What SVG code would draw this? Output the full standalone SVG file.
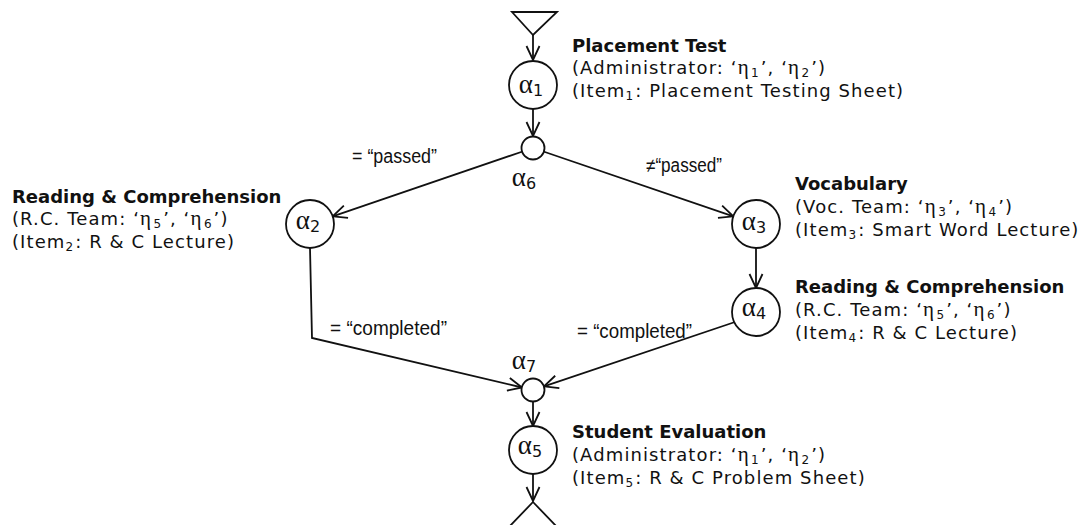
<svg xmlns="http://www.w3.org/2000/svg" width="1080" height="525" viewBox="0 0 1080 525">
<style>
.bg{fill:#fff}
.node{fill:#fff;stroke:#111;stroke-width:1.8}
.term{fill:#fff;stroke:#111;stroke-width:1.8}
.edge{fill:none;stroke:#111;stroke-width:1.8}
.t{font-family:"DejaVu Sans","Verdana",sans-serif;font-size:18px;fill:#111;letter-spacing:1.1px}
.b{font-weight:bold;letter-spacing:0}
.g{font-family:"Liberation Serif","Times New Roman",serif;font-size:21px;letter-spacing:2.5px}
.s{font-size:12px;letter-spacing:2px}
.a{font-family:"Liberation Serif","Times New Roman",serif;font-size:27px;fill:#111;text-anchor:middle}
.as{font-family:"DejaVu Sans",sans-serif;font-size:16px}
.lab{font-family:"Liberation Sans Narrow","Liberation Sans",sans-serif;font-size:19.5px;fill:#111}
</style>
<defs>
<marker id="arr" markerUnits="userSpaceOnUse" viewBox="0 0 16 16" refX="15" refY="8" markerWidth="16" markerHeight="16" orient="auto">
<path d="M1,1.5 L15,8 L1,14.5" fill="none" stroke="#111" stroke-width="1.8"/>
</marker>
</defs>
<rect class="bg" x="0" y="0" width="1080" height="525"/>

<g id="connectors">
<line class="edge" x1="533" y1="35" x2="533" y2="60" marker-end="url(#arr)"/>
<line class="edge" x1="533" y1="109" x2="533" y2="136" marker-end="url(#arr)"/>
<line class="edge" x1="522.6" y1="151.5" x2="332.7" y2="216.3" marker-end="url(#arr)"/>
<line class="edge" x1="543.4" y1="151.5" x2="733.3" y2="216.3" marker-end="url(#arr)"/>
<line class="edge" x1="756" y1="248" x2="756" y2="288" marker-end="url(#arr)"/>
<polyline class="edge" points="310,248 312,338 522,387.5" marker-end="url(#arr)"/>
<line class="edge" x1="735" y1="322" x2="544" y2="386.4" marker-end="url(#arr)"/>
<line class="edge" x1="533" y1="401.5" x2="533" y2="426" marker-end="url(#arr)"/>
<line class="edge" x1="533" y1="474" x2="533" y2="501" marker-end="url(#arr)"/>
<text class="lab" x="352" y="163" textLength="85" lengthAdjust="spacingAndGlyphs">= “passed”</text>
<text class="lab" x="646" y="172" textLength="76" lengthAdjust="spacingAndGlyphs">≠“passed”</text>
<text class="lab" x="330" y="335" textLength="117" lengthAdjust="spacingAndGlyphs">= “completed”</text>
<text class="lab" x="577" y="338" textLength="115" lengthAdjust="spacingAndGlyphs">= “completed”</text>
</g>

<g id="start">
<polygon class="term" points="512,12 557,12 533,35"/>
</g>

<g id="end">
<polygon class="term" points="533,502 558,528 508,528"/>
</g>

<g id="a1">
<circle class="node" cx="533" cy="85" r="24"/>
<text class="a" x="531" y="93">α<tspan class="as" dy="3">1</tspan></text>
<text class="t" x="572" y="52"><tspan class="b">Placement Test</tspan></text>
<text class="t" x="572" y="74">(Administrator: ‘<tspan class="g">η</tspan><tspan class="s" dy="3">1</tspan><tspan dy="-3">’, ‘</tspan><tspan class="g">η</tspan><tspan class="s" dy="3">2</tspan><tspan dy="-3">’)</tspan></text>
<text class="t" x="572" y="97">(Item<tspan class="s" dy="3">1</tspan><tspan dy="-3">: Placement Testing Sheet)</tspan></text>
</g>

<g id="a6">
<circle class="node" cx="533" cy="148" r="11.5"/>
<text class="a" x="524" y="186">α<tspan class="as" dy="3">6</tspan></text>
</g>

<g id="a2">
<circle class="node" cx="310" cy="224" r="24"/>
<text class="a" x="308" y="229">α<tspan class="as" dy="3">2</tspan></text>
<text class="t" x="12" y="203"><tspan class="b">Reading &amp; Comprehension</tspan></text>
<text class="t" x="12" y="225">(R.C. Team: ‘<tspan class="g">η</tspan><tspan class="s" dy="3">5</tspan><tspan dy="-3">’, ‘</tspan><tspan class="g">η</tspan><tspan class="s" dy="3">6</tspan><tspan dy="-3">’)</tspan></text>
<text class="t" x="12" y="248">(Item<tspan class="s" dy="3">2</tspan><tspan dy="-3">: R &amp; C Lecture)</tspan></text>
</g>

<g id="a3">
<circle class="node" cx="756" cy="224" r="24"/>
<text class="a" x="754" y="230">α<tspan class="as" dy="3">3</tspan></text>
<text class="t" x="795" y="190"><tspan class="b">Vocabulary</tspan></text>
<text class="t" x="795" y="213">(Voc. Team: ‘<tspan class="g">η</tspan><tspan class="s" dy="3">3</tspan><tspan dy="-3">’, ‘</tspan><tspan class="g">η</tspan><tspan class="s" dy="3">4</tspan><tspan dy="-3">’)</tspan></text>
<text class="t" x="795" y="236">(Item<tspan class="s" dy="3">3</tspan><tspan dy="-3">: Smart Word Lecture)</tspan></text>
</g>

<g id="a4">
<circle class="node" cx="756" cy="312" r="24"/>
<text class="a" x="754" y="316">α<tspan class="as" dy="3">4</tspan></text>
<text class="t" x="795" y="293"><tspan class="b">Reading &amp; Comprehension</tspan></text>
<text class="t" x="795" y="316">(R.C. Team: ‘<tspan class="g">η</tspan><tspan class="s" dy="3">5</tspan><tspan dy="-3">’, ‘</tspan><tspan class="g">η</tspan><tspan class="s" dy="3">6</tspan><tspan dy="-3">’)</tspan></text>
<text class="t" x="795" y="339">(Item<tspan class="s" dy="3">4</tspan><tspan dy="-3">: R &amp; C Lecture)</tspan></text>
</g>

<g id="a7">
<circle class="node" cx="533" cy="390" r="11.5"/>
<text class="a" x="524" y="369">α<tspan class="as" dy="3">7</tspan></text>
</g>

<g id="a5">
<circle class="node" cx="533" cy="450" r="24"/>
<text class="a" x="530" y="454">α<tspan class="as" dy="3">5</tspan></text>
<text class="t" x="572" y="438"><tspan class="b">Student Evaluation</tspan></text>
<text class="t" x="572" y="461">(Administrator: ‘<tspan class="g">η</tspan><tspan class="s" dy="3">1</tspan><tspan dy="-3">’, ‘</tspan><tspan class="g">η</tspan><tspan class="s" dy="3">2</tspan><tspan dy="-3">’)</tspan></text>
<text class="t" x="572" y="484">(Item<tspan class="s" dy="3">5</tspan><tspan dy="-3">: R &amp; C Problem Sheet)</tspan></text>
</g>
</svg>
